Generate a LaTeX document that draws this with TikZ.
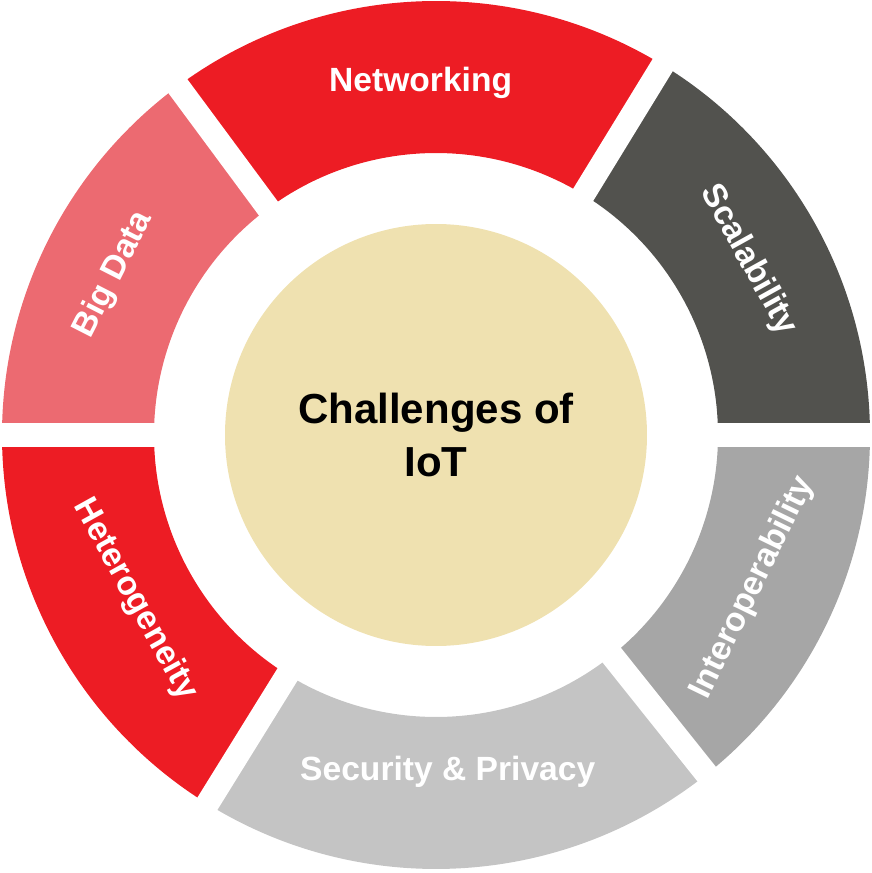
\documentclass[tikz,border=0pt]{standalone}
\usepackage{fontspec}
\setmainfont{Liberation Sans}

\definecolor{netred}{HTML}{ED1C24}
\definecolor{bigpink}{HTML}{EC6A71}
\definecolor{scalgray}{HTML}{52524E}
\definecolor{interopgray}{HTML}{A6A6A6}
\definecolor{secgray}{HTML}{C4C4C4}
\definecolor{corebeige}{HTML}{EFE1B0}

\begin{document}
\begin{tikzpicture}[
    x=0.5pt, y=0.5pt,
    gap/.style={draw=white, line width=11.75pt},
    label/.style={text=white, font=\bfseries\fontsize{16.8}{20}\selectfont},
    core/.style={circle, fill=corebeige, minimum size=211pt, inner sep=0pt, align=center, font=\bfseries\fontsize{21}{26.5}\selectfont},
]
    \useasboundingbox (-436,-438) rectangle (436,435);

    % ring
    \fill[scalgray] (0:434) arc[start angle=0, end angle=58.5, radius=434] -- (58.5:282) arc[start angle=58.5, end angle=0, radius=282] -- cycle;
    \fill[netred] (58.5:434) arc[start angle=58.5, end angle=126.5, radius=434] -- (126.5:282) arc[start angle=126.5, end angle=58.5, radius=282] -- cycle;
    \fill[bigpink] (126.5:434) arc[start angle=126.5, end angle=180, radius=434] -- (180:282) arc[start angle=180, end angle=126.5, radius=282] -- cycle;
    \fill[netred] (180:434) arc[start angle=180, end angle=238.2, radius=434] -- (238.2:282) arc[start angle=238.2, end angle=180, radius=282] -- cycle;
    \fill[secgray] (238.2:434) arc[start angle=238.2, end angle=308.6, radius=434] -- (308.6:282) arc[start angle=308.6, end angle=238.2, radius=282] -- cycle;
    \fill[interopgray] (308.6:434) arc[start angle=308.6, end angle=360, radius=434] -- (360:282) arc[start angle=360, end angle=308.6, radius=282] -- cycle;

    % gaps
    \draw[gap] (0:270) -- (0:445);
    \draw[gap] (58.5:270) -- (58.5:445);
    \draw[gap] (126.5:270) -- (126.5:445);
    \draw[gap] (180:270) -- (180:445);
    \draw[gap] (238.2:270) -- (238.2:445);
    \draw[gap] (308.6:270) -- (308.6:445);

    \node[core] (C) at (0,0) {Challenges of\\IoT};

    \node[label, rotate=-61] (L1) at (29.25:358) {Scalability};
    \node[label] (L2) at (92.5:352) {Networking};
    \node[label, rotate=63] (L3) at (153.5:360) {Big Data};
    \node[label, rotate=-61] (L4) at (208.7:343) {Heterogeneity};
    \node[label] (L5) at (272:337) {Security \& Privacy};
    \node[label, rotate=64] (L6) at (334.3:352) {Interoperability};
\end{tikzpicture}
\end{document}
